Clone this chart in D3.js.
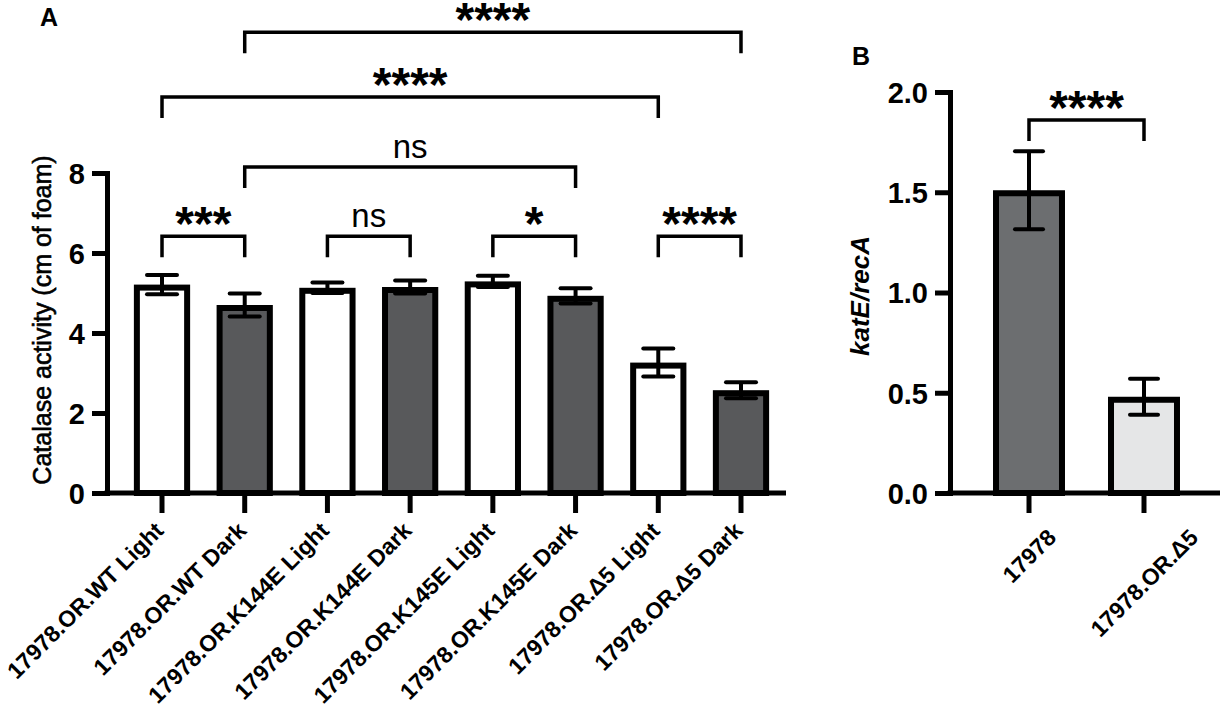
<!DOCTYPE html>
<html>
<head>
<meta charset="utf-8">
<script src="https://cdn.jsdelivr.net/npm/d3@7"></script>
<style>
  body { margin: 0; background: #fff; }
  svg { display: block; font-family: "Liberation Sans", Arial, sans-serif; }
</style>
</head>
<body>
<div id="chart"></div>
<script>
// panel A data: catalase activity (cm of foam)
var catsA = ["17978.OR.WT Light", "17978.OR.WT Dark", "17978.OR.K144E Light", "17978.OR.K144E Dark",
  "17978.OR.K145E Light", "17978.OR.K145E Dark", "17978.OR.\u03945 Light", "17978.OR.\u03945 Dark"];
var meansA = [5.21, 4.70, 5.13, 5.15, 5.29, 4.93, 3.26, 2.57];
var semA = [0.24, 0.29, 0.13, 0.16, 0.14, 0.19, 0.35, 0.20];
var ticksA = [0, 2, 4, 6, 8];
// significance brackets: bar index from/to, level in data units, label
var sigA = [
  { a: 1, b: 7, level: 11.52, label: "****" },
  { a: 0, b: 6, level: 9.9, label: "****" },
  { a: 1, b: 5, level: 8.15, label: "ns" },
  { a: 0, b: 1, level: 6.42, label: "***" },
  { a: 2, b: 3, level: 6.42, label: "ns" },
  { a: 4, b: 5, level: 6.42, label: "*" },
  { a: 6, b: 7, level: 6.42, label: "****" }
];

// panel B data: katE/recA
var catsB = ["17978", "17978.OR.\u03945"];
var meansB = [1.51, 0.48];
var semB = [0.195, 0.09];
var ticksB = [0, 0.5, 1.0, 1.5, 2.0];
var sigB = [{ a: 0, b: 1, level: 1.86, label: "****" }];

var width = 1220, height = 716;
var svg = d3.select("#chart").append("svg").attr("width", width).attr("height", height);

function drawPanel(o) {
  var g = svg.append("g");
  var x = d3.scaleBand().domain(o.cats).range(o.xr).paddingInner(o.pi).paddingOuter(o.po);
  var y = d3.scaleLinear().domain(o.yd).range([493, o.ytop]);
  var sw = 6;
  var bw = x.bandwidth();

  // bars (stroke drawn inside the outline)
  g.selectAll("rect.bar").data(o.means).enter().append("rect")
    .attr("class", "bar")
    .attr("x", function (d, i) { return x(o.cats[i]) + sw / 2; })
    .attr("y", function (d) { return y(d) + sw / 2; })
    .attr("width", bw - sw)
    .attr("height", function (d) { return y(0) - y(d) - sw / 2; })
    .attr("fill", function (d, i) { return o.fills[i]; })
    .attr("stroke", "#000").attr("stroke-width", sw);

  // error bars
  var eb = g.selectAll("g.err").data(o.means).enter().append("g")
    .attr("transform", function (d, i) { return "translate(" + (x(o.cats[i]) + bw / 2) + ",0)"; });
  eb.append("line").attr("x1", 0).attr("x2", 0)
    .attr("y1", function (d, i) { return y(d + o.sem[i]); })
    .attr("y2", function (d, i) { return y(d - o.sem[i]); })
    .attr("stroke", "#000").attr("stroke-width", 4);
  [1, -1].forEach(function (s) {
    eb.append("line").attr("x1", -o.cap / 2).attr("x2", o.cap / 2)
      .attr("y1", function (d, i) { return y(d + s * o.sem[i]); })
      .attr("y2", function (d, i) { return y(d + s * o.sem[i]); })
      .attr("stroke", "#000").attr("stroke-width", 4).attr("stroke-linecap", "round");
  });

  // y axis
  var ya = g.append("g").attr("transform", "translate(" + o.xr[0] + ",0)")
    .call(d3.axisLeft(y).tickValues(o.ticks).tickSize(15).tickSizeOuter(0).tickPadding(7).tickFormat(o.fmt));
  ya.select(".domain").attr("stroke-width", 5).attr("stroke-linecap", "square");
  ya.selectAll(".tick line").attr("stroke-width", 5);
  ya.selectAll(".tick text").style("font-size", o.tickFont + "px").style("font-weight", "bold")
    .style("font-family", "'Liberation Sans', Arial, sans-serif").attr("fill", "#000").attr("dy", "0.36em");

  // x axis
  var xa = g.append("g").attr("transform", "translate(0,493)")
    .call(d3.axisBottom(x).tickSize(20).tickSizeOuter(0).tickFormat(""));
  xa.select(".domain").remove();
  xa.selectAll(".tick line").attr("stroke-width", 5);
  g.append("line").attr("x1", o.xr[0] - 2.5).attr("x2", o.xEnd).attr("y1", 493).attr("y2", 493)
    .attr("stroke", "#000").attr("stroke-width", 5);

  // category labels rotated -45
  var lab = g.selectAll("text.cat").data(o.cats).enter().append("text")
    .attr("class", "cat")
    .attr("font-size", o.catFont).attr("font-weight", "bold")
    .text(function (d) { return d; });
  if (o.centerLabels) {
    lab.attr("text-anchor", "middle").attr("dy", "0.36em")
      .attr("transform", function (d) {
        var L = this.getComputedTextLength(), h = 17;
        var cy = 527 + (L + h) * 0.354;
        return "translate(" + (x(d) + bw / 2) + "," + cy + ") rotate(-45)";
      });
  } else {
    lab.attr("text-anchor", "end")
      .attr("transform", function (d) { return "translate(" + (x(d) + bw / 2 + 3) + ",532) rotate(-45)"; });
  }

  // significance brackets
  o.sig.forEach(function (s) {
    var x1 = x(o.cats[s.a]) + bw / 2, x2 = x(o.cats[s.b]) + bw / 2, yy = y(s.level);
    g.append("path")
      .attr("d", "M" + x1 + "," + (yy + 21) + "V" + yy + "H" + x2 + "V" + (yy + 21))
      .attr("fill", "none").attr("stroke", "#000").attr("stroke-width", 3.5);
    var star = s.label.indexOf("*") >= 0;
    g.append("text").attr("x", (x1 + x2) / 2).attr("y", star ? yy + 4 : yy - 9)
      .attr("text-anchor", "middle")
      .attr("font-size", star ? 48 : 33).attr("font-weight", star ? "bold" : "normal")
      .text(s.label);
  });

  // axis title
  g.append("text").attr("transform", "translate(" + o.titleX + "," + o.titleY + ") rotate(-90)")
    .attr("text-anchor", "middle").attr("font-size", o.titleSize)
    .attr("font-weight", o.titleWeight).attr("font-style", o.titleStyle)
    .attr("stroke", "#000").attr("stroke-width", o.titleStroke)
    .text(o.title);
}

drawPanel({
  cats: catsA, means: meansA, sem: semA, ticks: ticksA, sig: sigA,
  xr: [107, 796], xEnd: 786, pi: 0.32, po: 0.325, yd: [0, 8], ytop: 173,
  fills: catsA.map(function (c) { return /Dark/.test(c) ? "#58595b" : "#ffffff"; }),
  cap: 30, tickFont: 29, catFont: 23, fmt: d3.format("d"),
  title: "Catalase activity (cm of foam)", titleX: 51, titleY: 320, titleSize: 25,
  titleWeight: "normal", titleStyle: "normal", titleStroke: 0.6, centerLabels: false
});

drawPanel({
  cats: catsB, means: meansB, sem: semB, ticks: ticksB, sig: sigB,
  xr: [950, 1223], xEnd: 1220, pi: 0.374, po: 0.374, yd: [0, 2], ytop: 92,
  fills: ["#6c6e70", "#e5e6e7"],
  cap: 28, tickFont: 29, catFont: 23, fmt: d3.format(".1f"),
  title: "katE/recA", titleX: 869, titleY: 296, titleSize: 26,
  titleWeight: "bold", titleStyle: "italic", titleStroke: 0, centerLabels: true
});

// panel letters
svg.append("text").attr("x", 40).attr("y", 26).attr("font-size", 25).attr("font-weight", "bold").text("A");
svg.append("text").attr("x", 852).attr("y", 65).attr("font-size", 25).attr("font-weight", "bold").text("B");
</script>
</body>
</html>
